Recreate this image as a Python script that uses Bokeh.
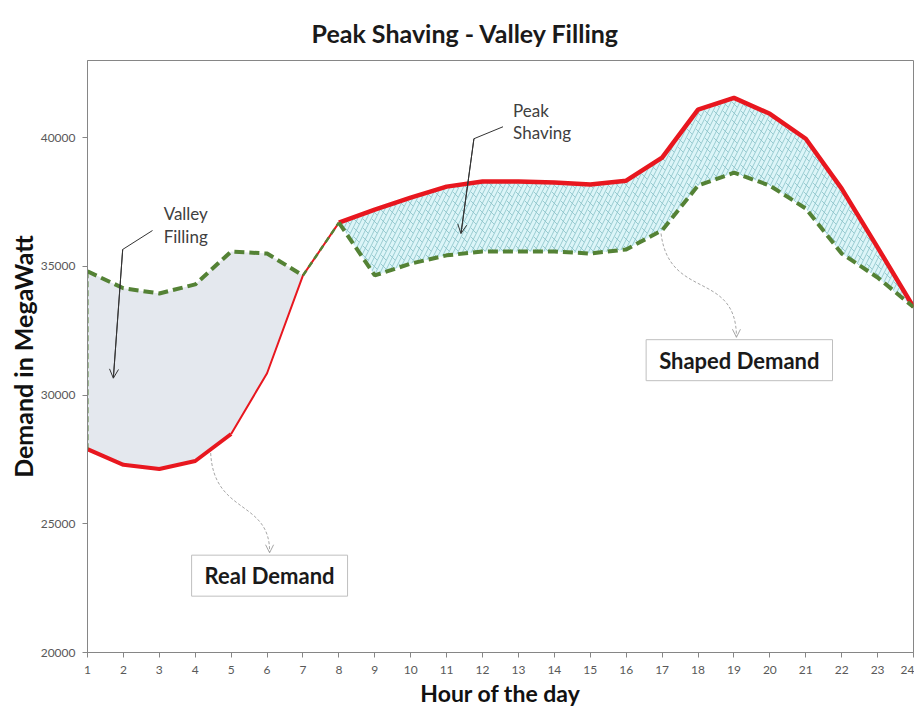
from bokeh.plotting import figure
from bokeh.models import Range1d, FixedTicker, Label, Arrow, OpenHead
from bokeh.embed import file_html
from bokeh.resources import INLINE

# ---- data ----
hours = list(range(1, 25))
real_demand = [27900, 27290, 27130, 27440, 28490, 30850, 34650, 36700,
               37210, 37670, 38100, 38300, 38300, 38260, 38180, 38330,
               39230, 41090, 41550, 40930, 39960, 38020, 35740, 33420]
shaped_demand = [34810, 34150, 33950, 34300, 35580, 35500, 34650, 36700,
                 34650, 35110, 35430, 35580, 35580, 35580, 35500, 35660,
                 36400, 38140, 38640, 38140, 37250, 35500, 34570, 33420]
y_ticks = [20000, 25000, 30000, 35000, 40000]

RED = "#e8171f"
GREEN = "#548235"
FONT = "Lato"

p = figure(width=914, height=709, output_backend="svg", toolbar_location=None,
           x_range=Range1d(1, 24), y_range=Range1d(20000, 43000),
           min_border_left=87, min_border_right=1, min_border_top=60,
           min_border_bottom=56)

p.title.text = "Peak Shaving - Valley Filling"
p.title.align = "left"
p.title.offset = 224
p.title.text_font = FONT
p.title.text_font_size = "25px"
p.title.text_font_style = "bold"
p.title.text_color = "#1a1a1a"
p.title.standoff = 26

p.xgrid.visible = False
p.ygrid.visible = False
p.outline_line_color = "#868686"
p.background_fill_color = "white"
p.border_fill_color = "white"

for ax in (p.xaxis[0], p.yaxis[0]):
    ax.axis_line_color = "#868686"
    ax.major_tick_line_color = "#868686"
    ax.major_tick_out = 5
    ax.major_tick_in = 0
    ax.minor_tick_line_color = None
    ax.major_label_text_color = "#595959"
    ax.major_label_text_font = FONT
    ax.major_label_text_font_size = "12px"
    ax.axis_label_text_font = FONT
    ax.axis_label_text_font_style = "bold"
    ax.axis_label_text_color = "#111111"

p.xaxis.ticker = FixedTicker(ticks=hours)
p.yaxis.ticker = FixedTicker(ticks=y_ticks)
p.xaxis.axis_label = "Hour of the day"
p.yaxis.axis_label = "Demand in MegaWatt"
p.xaxis.axis_label_text_font_size = "23px"
p.yaxis.axis_label_text_font_size = "25px"
p.xaxis.major_label_standoff = 8
p.xaxis.axis_label_standoff = 2
p.yaxis.major_label_standoff = 7
p.yaxis.axis_label_standoff = 0

# ---- fills ----
p.varea(x=hours[0:7], y1=real_demand[0:7], y2=shaped_demand[0:7],
        fill_color="#e4e8ee")
p.varea(x=hours[7:], y1=shaped_demand[7:], y2=real_demand[7:],
        fill_color="#dcf5f8", hatch_pattern="right_diagonal_line",
        hatch_color="#86c0c7", hatch_scale=9, hatch_weight=0.8)
p.varea(x=hours[7:], y1=shaped_demand[7:], y2=real_demand[7:],
        fill_alpha=0, hatch_pattern="left_diagonal_dash",
        hatch_color="#86c0c7", hatch_scale=9, hatch_weight=0.8)

# ---- lines ----
p.line(hours[0:5], real_demand[0:5], line_color=RED, line_width=4)
p.line(hours[4:8], real_demand[4:8], line_color=RED, line_width=2)
p.line(hours[7:], real_demand[7:], line_color=RED, line_width=4.5)

p.line([hours[0], hours[0]], [real_demand[0], shaped_demand[0]],
       line_color=GREEN, line_width=2, line_dash="6 3")
p.line(hours[0:7], shaped_demand[0:7], line_color=GREEN, line_width=4,
       line_dash="10 5")
p.line(hours[6:8], shaped_demand[6:8], line_color=GREEN, line_width=2.5,
       line_dash="6 4")
p.line(hours[7:], shaped_demand[7:], line_color=GREEN, line_width=4,
       line_dash="10 5")

# ---- callouts ----
def note(x, y, text):
    p.add_layout(Label(x=x, y=y, text=text, text_font=FONT,
                       text_font_size="17px", text_color="#404040",
                       text_baseline="middle", text_align="left"))

note(3.12, 37054, "Valley")
note(3.12, 36163, "Filling")
note(12.85, 41047, "Peak")
note(12.85, 40194, "Shaving")

valley_x = [2.81, 1.98, 1.72]
valley_y = [36395, 35659, 30659]
peak_x = [12.57, 11.76, 11.40]
peak_y = [40426, 39961, 36279]
for xs, ys in ((valley_x, valley_y), (peak_x, peak_y)):
    p.line(xs, ys, line_color="#333333", line_width=1)
    p.add_layout(Arrow(end=OpenHead(size=9, line_color="#333333", line_width=1),
                       x_start=xs[-2], y_start=ys[-2], x_end=xs[-1], y_end=ys[-1],
                       line_color="#333333", line_width=1))

def curve(x0, y0, cx0, cy0, cx1, cy1, x1, y1):
    p.bezier(x0=[x0], y0=[y0], x1=[x1], y1=[y1], cx0=[cx0], cy0=[cy0],
             cx1=[cx1], cy1=[cy1], line_color="#a6a6a6", line_width=1,
             line_dash="3 2")
    p.add_layout(Arrow(end=OpenHead(size=8, line_color="#a6a6a6", line_width=1),
                       x_start=x1, y_start=y1 + 300, x_end=x1, y_end=y1,
                       line_alpha=0))

curve(16.97, 36279, 17.2, 33683, 19.07, 34845, 19.07, 32248)
curve(4.43, 27752, 4.51, 25349, 6.10, 25930, 6.07, 23876)

def box(x, y, text):
    p.add_layout(Label(x=x, y=y, text=text, text_font=FONT,
                       text_font_size="22px", text_font_style="bold",
                       text_color="#1a1a1a", text_align="center",
                       text_baseline="middle",
                       padding=dict(left=13, right=13, top=7, bottom=7),
                       background_fill_color="white",
                       border_line_color="#bfbfbf", border_line_width=1))

box(19.15, 31357, "Shaped Demand")
box(6.07, 22985, "Real Demand")

open("out.html", "w").write(file_html(p, INLINE))
